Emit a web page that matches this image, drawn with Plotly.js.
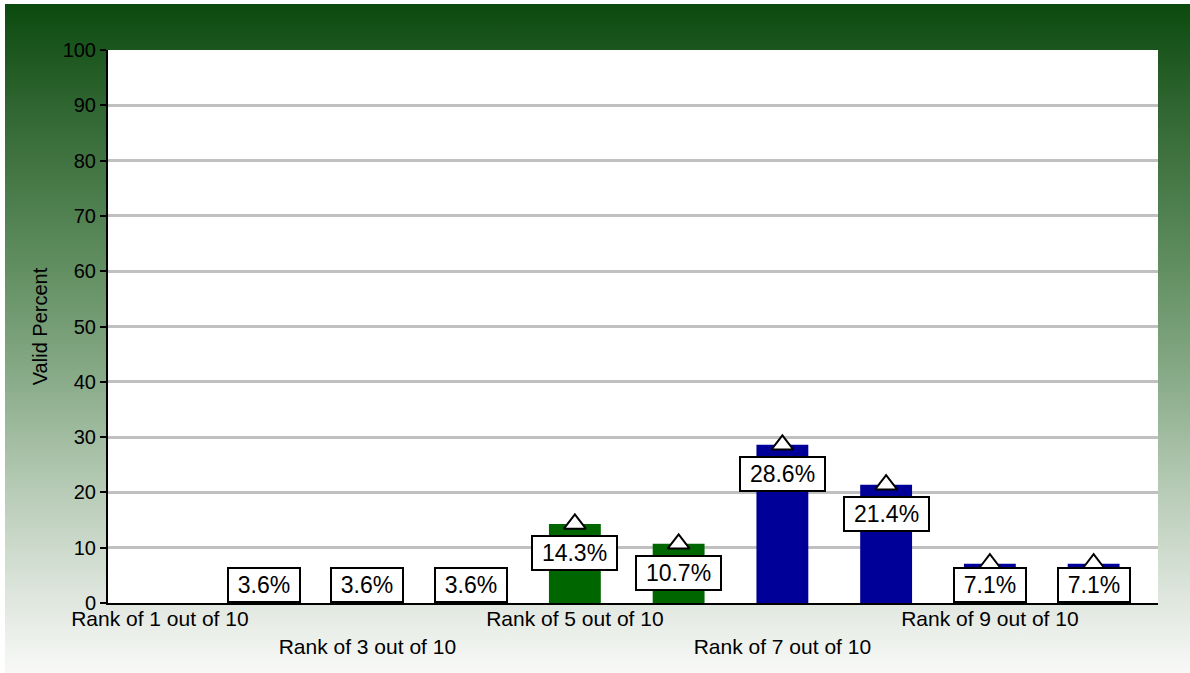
<!DOCTYPE html>
<html>
<head>
<meta charset="utf-8">
<script src="https://cdn.plot.ly/plotly-3.0.1.min.js"></script>
<style>
  html, body { margin: 0; padding: 0; background: #ffffff; }
  #bg { position: absolute; left: 5px; top: 4px; width: 1185px; height: 669px;
        background: linear-gradient(to bottom, #0b4a0f 0%, #2f6530 15%, #5e8c5e 38%, #86a986 55%, #b5cab4 72%, #dde5dc 88%, #f8f9f7 100%); }
  #chart { position: absolute; left: 0; top: 0; width: 1190px; height: 673px; }
</style>
</head>
<body>
<div id="bg"></div>
<div id="chart"></div>
<script>
const categories = ["Rank of 1 out of 10", "Rank of 2 out of 10", "Rank of 3 out of 10", "Rank of 4 out of 10",
  "Rank of 5 out of 10", "Rank of 6 out of 10", "Rank of 7 out of 10", "Rank of 8 out of 10",
  "Rank of 9 out of 10", "Rank of 10 out of 10"];
const validPercent = [0, 3.6, 3.6, 3.6, 14.3, 10.7, 28.6, 21.4, 7.1, 7.1];
const valueLabels = ["", "3.6%", "3.6%", "3.6%", "14.3%", "10.7%", "28.6%", "21.4%", "7.1%", "7.1%"];
const barColors = ["#c00000", "#c00000", "#c00000", "#c00000", "#006600", "#006600", "#000099", "#000099", "#000099", "#000099"];
const tickCategories = ["Rank of 1 out of 10", "Rank of 3 out of 10", "Rank of 5 out of 10", "Rank of 7 out of 10", "Rank of 9 out of 10"];
const tickTexts = ["Rank of 1 out of 10", "<br>Rank of 3 out of 10", "Rank of 5 out of 10", "<br>Rank of 7 out of 10", "Rank of 9 out of 10"];
const yTicks = [0, 10, 20, 30, 40, 50, 60, 70, 80, 90, 100];

const FONT = "Liberation Sans, Arial, sans-serif";
const canvas = document.createElement("canvas");
const ctx = canvas.getContext("2d");
ctx.font = "23px 'Liberation Sans'";

const plotHeightPx = 553; // 673 - 50 - 70
const pxPerUnit = plotHeightPx / 100;
const boxH = 36;

const annotations = [];
categories.forEach((c, i) => {
  const v = validPercent[i];
  if (!valueLabels[i]) return;
  const tw = ctx.measureText(valueLabels[i]).width;
  const fits = v * pxPerUnit - 12 >= boxH;
  annotations.push({
    x: c, y: fits ? v : 0, xref: "x", yref: "y",
    text: valueLabels[i], showarrow: false,
    yanchor: fits ? "top" : "bottom", yshift: fits ? -11 : 0,
    font: { family: FONT, size: 23, color: "#000" },
    bgcolor: "#ffffff", bordercolor: "#000000", borderwidth: 2, borderpad: 3,
    width: Math.round(tw + 12), height: 26
  });
});

const traces = [
  {
    type: "bar", x: categories, y: validPercent,
    marker: { color: barColors, line: { width: 0 } },
    width: 0.5, hoverinfo: "skip"
  },
  {
    type: "scatter", mode: "markers",
    x: categories.filter((c, i) => valueLabels[i]),
    y: validPercent.filter((v, i) => valueLabels[i]),
    marker: { symbol: "triangle-up", size: 19, color: "#ffffff", line: { color: "#000000", width: 2 } },
    hoverinfo: "skip", cliponaxis: false
  }
];

const layout = {
  width: 1190, height: 673,
  margin: { l: 108, r: 32, t: 50, b: 70 },
  paper_bgcolor: "rgba(0,0,0,0)",
  plot_bgcolor: "#ffffff",
  showlegend: false,
  font: { family: FONT, color: "#000" },
  bargap: 0.5,
  xaxis: {
    type: "category", categoryarray: categories,
    tickmode: "array", tickvals: tickCategories, ticktext: tickTexts,
    ticks: "", showgrid: false, zeroline: false,
    showline: true, linecolor: "#000", linewidth: 2,
    tickfont: { family: FONT, size: 21, color: "#000" },
    ticklabelstandoff: -4,
    tickangle: 0, automargin: false
  },
  yaxis: {
    range: [0, 100], tickmode: "array", tickvals: yTicks,
    ticks: "outside", ticklen: 6, tickwidth: 2, tickcolor: "#000",
    showgrid: true, gridcolor: "#c0c0c0", gridwidth: 3,
    zeroline: false, showline: true, linecolor: "#000", linewidth: 2,
    tickfont: { family: FONT, size: 20, color: "#000" },
    title: { text: "Valid Percent", font: { family: FONT, size: 20, color: "#000" }, standoff: 10 },
    automargin: false, fixedrange: true
  },
  annotations: annotations
};

Plotly.newPlot("chart", traces, layout, { displayModeBar: false, staticPlot: true });
</script>
</body>
</html>
